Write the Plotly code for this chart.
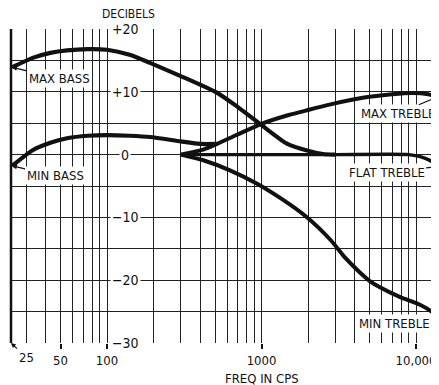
import numpy as np
import plotly.graph_objects as go

# ---------------- data ----------------
max_bass_f = [24.3, 33, 43, 55, 75, 100, 140, 190, 300, 520, 700, 1000, 1450, 2000, 2500, 3000]
max_bass_db = [13.9, 15.4, 16.2, 16.6, 16.8, 16.7, 15.9, 14.6, 12.5, 9.8, 7.6, 4.7, 1.8, 0.6, 0.1, 0.0]

min_bass_f = [24.3, 33, 43, 55, 75, 100, 140, 190, 300, 400, 515]
min_bass_db = [-1.8, 0.7, 1.9, 2.6, 3.0, 3.1, 3.0, 2.8, 2.1, 1.7, 1.7]

max_treble_f = [300, 420, 515, 700, 1000, 1500, 2000, 2800, 4000, 5000, 7000, 9500, 12000, 13800]
max_treble_db = [0.0, 0.8, 1.7, 3.2, 4.9, 6.3, 7.1, 8.0, 8.8, 9.2, 9.6, 9.8, 9.6, 9.2]

flat_treble_f = [300, 1000, 3000, 9000, 10500, 12000, 13000, 13800]
flat_treble_db = [0.0, 0.0, 0.0, 0.0, -0.3, -0.8, -1.3, -1.9]

min_treble_f = [300, 420, 625, 930, 1320, 1950, 2800, 3500, 4300, 5000, 5800, 7900, 10600, 12900, 13800]
min_treble_db = [0.0, -0.9, -2.5, -4.6, -6.9, -9.9, -13.6, -16.5, -18.7, -20.1, -21.1, -22.7, -23.9, -25.2, -26.4]

x_ticks = [50, 100, 1000, 10000]
x_tick_text = ["50", "100", "1000", "10,000"]
x_grid = [30, 40, 50, 60, 70, 80, 90, 100, 200, 300, 400, 500, 600, 700, 800, 900,
          1000, 2000, 3000, 4000, 5000, 6000, 7000, 8000, 9000, 10000]
y_grid = [-30, -25, -20, -15, -10, -5, 0, 5, 10, 15, 20]
y_labels = [(20, "+20"), (10, "+10"), (0, "0"), (-10, "\u221210"), (-20, "\u221220"), (-30, "\u221230")]

FONT = "DejaVu Sans Condensed, Liberation Sans Narrow, Liberation Sans, Arial, sans-serif"
INK = "#111111"
GRID = "#222222"

fig = go.Figure()

curves = [
    (max_bass_f, max_bass_db, 4.2),
    (min_bass_f, min_bass_db, 4.2),
    (max_treble_f, max_treble_db, 4.0),
    (flat_treble_f, flat_treble_db, 3.4),
    (min_treble_f, min_treble_db, 4.0),
]
for f, db, w in curves:
    fig.add_trace(go.Scatter(x=f, y=db, mode="lines",
                             line=dict(color=INK, width=w, shape="spline", smoothing=0.6),
                             hoverinfo="skip", showlegend=False))

xr = [1.3786, 1.3786 + 428 / 154.5]

fig.update_xaxes(type="log", range=xr, automargin=False,
                 tickvals=x_ticks, ticktext=x_tick_text,
                 ticks="outside", ticklen=5, tickcolor=INK, tickwidth=1.5,
                 showgrid=True, gridcolor=GRID, gridwidth=1.4,
                 minor=dict(tickvals=x_grid, showgrid=True, gridcolor=GRID, gridwidth=1.4, ticks=""),
                 zeroline=False, showline=False,
                 tickfont=dict(family=FONT, size=13, color=INK))
fig.update_yaxes(range=[-30, 20], tickvals=y_grid, showticklabels=False, automargin=False,
                 showgrid=True, gridcolor=GRID, gridwidth=1.4,
                 zeroline=False, showline=False, ticks="")

# left border
fig.add_shape(type="line", xref="paper", yref="paper", x0=0, x1=0, y0=0, y1=1,
              line=dict(color=INK, width=2.5))

lab_x = xr[0] + (125 - 11) / 154.5
for v, t in y_labels:
    fig.add_annotation(x=lab_x, y=v, text=t, showarrow=False, bgcolor="white",
                       borderpad=1, font=dict(family=FONT, size=14, color=INK))

fig.add_annotation(x=xr[0] + (128 - 11) / 154.5, y=20, text="DECIBELS", showarrow=False,
                   yanchor="middle", yshift=15, font=dict(family=FONT, size=12, color=INK))
fig.add_annotation(x=3, y=0, yref="paper", text="FREQ IN CPS", showarrow=False,
                   yanchor="middle", yshift=-35, font=dict(family=FONT, size=13, color=INK))

arrow_kw = dict(showarrow=True, arrowhead=2, arrowsize=0.8, arrowwidth=1.2, arrowcolor=INK,
                bgcolor="white", font=dict(family=FONT, size=13, color=INK))
fig.add_annotation(x=np.log10(max_bass_f[0]), y=max_bass_db[0], text="MAX BASS",
                   ax=47, ay=11, **arrow_kw)
fig.add_annotation(x=np.log10(min_bass_f[0]), y=min_bass_db[0], text="MIN BASS",
                   ax=43, ay=10, **arrow_kw)
fig.add_annotation(x=np.log10(max_treble_f[-1]), y=max_treble_db[-1], text="MAX TREBLE",
                   ax=-40, ay=17, **arrow_kw)
fig.add_annotation(x=np.log10(flat_treble_f[-1]), y=flat_treble_db[-1], text="FLAT TREBLE",
                   ax=-51, ay=6, **arrow_kw)
fig.add_annotation(x=np.log10(min_treble_f[-1]), y=min_treble_db[-1], text="MIN TREBLE",
                   ax=-43, ay=3, **arrow_kw)
fig.add_annotation(x=xr[0], y=-30, text="25", ax=15, ay=14,
                   showarrow=True, arrowhead=2, arrowsize=0.8, arrowwidth=1.2, arrowcolor=INK,
                   font=dict(family=FONT, size=13, color=INK))

# the page body adds an 8 px offset; size the figure so the plot lands where the reference has it
fig.update_layout(width=431, height=377, margin=dict(l=3, r=0, t=21, b=42, autoexpand=False),
                  paper_bgcolor="white", plot_bgcolor="white", showlegend=False)

fig.write_html("out.html")
